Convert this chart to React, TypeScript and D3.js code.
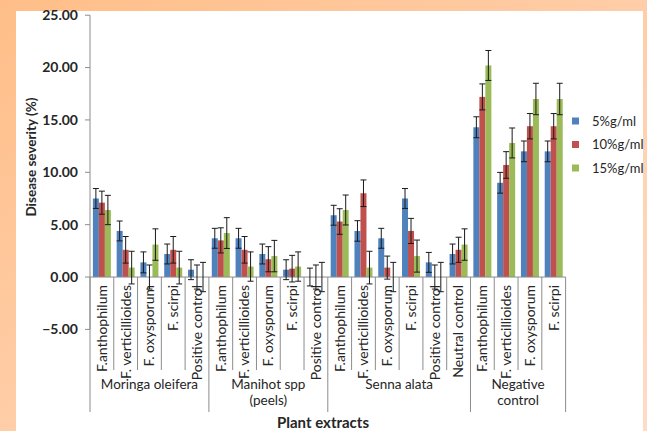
import React from "react";
import * as d3 from "d3";

const categories = [
  "F.anthophilum", "F. verticillioides", "F. oxysporum", "F. scirpi", "Positive control",
  "F.anthophilum", "F. verticillioides", "F. oxysporum", "F. scirpi", "Positive control",
  "F.anthophilum", "F. verticillioides", "F. oxysporum", "F. scirpi", "Positive control", "Neutral control",
  "F.anthophilum", "F. verticillioides", "F. oxysporum", "F. scirpi",
];
const groupNames = [["Moringa oleifera"], ["Manihot spp", "(peels)"], ["Senna alata"], ["Negative", "control"]];
const groupSizes = [5, 5, 6, 4];

const seriesNames = ["5%g/ml", "10%g/ml", "15%g/ml"];
const s5 = [7.5, 4.4, 1.4, 2.2, 0.7, 3.7, 3.7, 2.2, 0.7, 0, 5.9, 4.4, 3.7, 7.5, 1.4, 2.2, 14.3, 9.0, 12.0, 12.0];
const s10 = [7.1, 2.6, 0, 2.6, 0, 3.5, 2.6, 1.7, 0.8, 0, 5.3, 8.0, 0.9, 4.4, 0, 2.6, 17.2, 10.7, 14.4, 14.4];
const s15 = [6.4, 0.9, 3.1, 0.9, 0, 4.2, 1.0, 2.0, 1.0, 0, 6.4, 0.9, 0, 2.0, 0, 3.1, 20.2, 12.8, 17.0, 17.0];
const e5 = [0.95, 0.95, 1.0, 0.95, 0.95, 0.95, 0.95, 0.95, 0.95, 0.85, 0.95, 0.98, 0.95, 0.95, 0.95, 0.95, 1.0, 0.99, 0.99, 0.99];
const e10 = [1.1, 1.27, 1.15, 1.27, 1.15, 1.2, 1.27, 1.2, 1.27, 1.15, 1.22, 1.27, 1.1, 1.2, 1.15, 1.2, 1.24, 1.27, 1.21, 1.21];
const e15 = [1.4, 1.56, 1.5, 1.56, 1.4, 1.47, 1.4, 1.5, 1.4, 1.4, 1.43, 1.56, 1.4, 1.53, 1.4, 1.5, 1.43, 1.43, 1.5, 1.5];
const yTicks = [-5, 0, 5, 10, 15, 20, 25];

const colors = ["#4F81BD", "#C0504D", "#9BBB59"];
const FONT = "Lato, 'Open Sans', sans-serif";

export default function App() {
  const W = 647, H = 431;
  const x0 = 90, x1 = 565.6;
  const y = d3.scaleLinear().domain([-5, 25]).range([329.4, 15.2]);
  const x = d3.scaleBand<number>().domain(d3.range(categories.length)).range([x0, x1]).padding(0);
  const bw = x.bandwidth();
  const sub = d3.scaleBand<number>().domain([0, 1, 2]).range([(bw - 18) / 2, (bw + 18) / 2]).padding(0);
  const values = [s5, s10, s15];
  const errs = [e5, e10, e15];
  const yZero = y(0);
  const fmt = d3.format(".2f");

  const boundaries: number[] = [0];
  groupSizes.reduce((acc, s) => { boundaries.push(acc + s); return acc + s; }, 0);
  const xAt = (i: number) => (i < categories.length ? (x(i) as number) : x1);

  return (
    <svg width={W} height={H} style={{ position: "fixed", left: 0, top: 0 }} fontFamily={FONT}>
      <defs>
        <linearGradient id="bg" x1="0" y1="0" x2="1" y2="1">
          <stop offset="0" stopColor="#FFBE88" />
          <stop offset="1" stopColor="#FFDCC6" />
        </linearGradient>
      </defs>
      <rect x={0} y={0} width={W} height={H} fill="url(#bg)" />
      <rect x={16} y={11} width={627} height={H - 11} fill="#FFFFFF" />

      {/* y axis */}
      <line x1={x0} x2={x0} y1={y(25)} y2={y(-5)} stroke="#8C8C8C" strokeWidth={1} />
      {yTicks.map((t) => (
        <g key={t}>
          <line x1={x0 - 5} x2={x0} y1={y(t)} y2={y(t)} stroke="#8C8C8C" />
          <text x={x0 - 12} y={y(t)} dy="0.35em" textAnchor="end" fontSize={14} fontWeight={700} fill="#262626">
            {fmt(t)}
          </text>
        </g>
      ))}
      <text transform={`translate(31,157) rotate(-90)`} textAnchor="middle" dy="0.35em" fontSize={13.5} fontWeight={700} fill="#262626">
        Disease severity (%)
      </text>

      {/* bars */}
      {values.map((vals, s) =>
        vals.map((v, i) => {
          const bx = (x(i) as number) + (sub(s) as number);
          const top = y(Math.max(v, 0));
          return (
            <rect key={`b${s}-${i}`} x={bx} y={top} width={sub.bandwidth()} height={Math.abs(y(v) - yZero)} fill={colors[s]} />
          );
        })
      )}

      {/* category axis */}
      <line x1={x0} x2={x1} y1={yZero} y2={yZero} stroke="#8C8C8C" />
      {d3.range(categories.length + 1).map((i) => {
        const isGroup = boundaries.includes(i);
        return (
          <line key={`sep${i}`} x1={xAt(i)} x2={xAt(i)} y1={yZero} y2={isGroup ? 412 : 370} stroke="#8C8C8C" />
        );
      })}
      {categories.map((c, i) => (
        <text key={`c${i}`} transform={`translate(${(x(i) as number) + bw / 2},285) rotate(-90)`} textAnchor="end" dy="0.35em" fontSize={14} fill="#262626">
          {c}
        </text>
      ))}
      {groupNames.map((lines, g) => {
        const cx = (xAt(boundaries[g]) + xAt(boundaries[g + 1])) / 2;
        return (
          <text key={`g${g}`} x={cx} y={385} textAnchor="middle" fontSize={13.5} fill="#262626">
            {lines.map((l, k) => (
              <tspan key={k} x={cx} y={384 + k * 16} dy="0.35em">{l}</tspan>
            ))}
          </text>
        );
      })}
      <text x={323} y={423} dy="0.35em" textAnchor="middle" fontSize={15} fontWeight={700} fill="#262626">
        Plant extracts
      </text>

      {/* error bars */}
      {values.map((vals, s) =>
        vals.map((v, i) => {
          const cx = (x(i) as number) + (sub(s) as number) + sub.bandwidth() / 2;
          const e = errs[s][i];
          const ya = y(v + e), yb = y(v - e);
          return (
            <g key={`e${s}-${i}`} stroke="#1a1a1a" strokeWidth={1}>
              <line x1={cx} x2={cx} y1={ya} y2={yb} />
              <line x1={cx - 3} x2={cx + 3} y1={ya} y2={ya} />
              <line x1={cx - 3} x2={cx + 3} y1={yb} y2={yb} />
            </g>
          );
        })
      )}

      {/* legend */}
      {seriesNames.map((n, s) => (
        <g key={n} transform={`translate(572,${121 + s * 23.5})`}>
          <rect x={0} y={-3.5} width={7} height={7} fill={colors[s]} />
          <text x={20} y={0} dy="0.35em" fontSize={13} fill="#262626">{n}</text>
        </g>
      ))}
    </svg>
  );
}
